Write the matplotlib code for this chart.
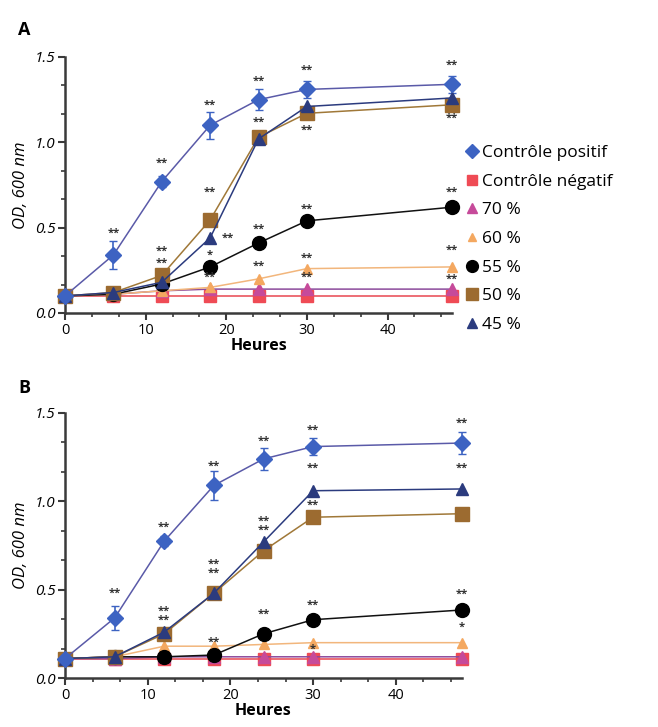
import matplotlib
matplotlib.use("Agg")
import matplotlib.pyplot as plt
from matplotlib.lines import Line2D
from matplotlib.ticker import MultipleLocator, AutoMinorLocator

plt.rcParams['font.family'] = ['Open Sans', 'DejaVu Sans']

heures = [0, 6, 12, 18, 24, 30, 48]

noms = ["Contrôle positif", "Contrôle négatif", "70 %", "60 %", "55 %", "50 %", "45 %"]
cles = ["pos", "neg", "p70", "p60", "p55", "p50", "p45"]

# panneau A
A_pos = [0.10, 0.34, 0.77, 1.10, 1.25, 1.31, 1.34]
A_pos_err = [0.02, 0.08, 0.03, 0.08, 0.06, 0.05, 0.05]
A_neg = [0.10, 0.10, 0.10, 0.10, 0.10, 0.10, 0.10]
A_p70 = [0.10, 0.11, 0.13, 0.14, 0.14, 0.14, 0.14]
A_p60 = [0.10, 0.11, 0.13, 0.15, 0.20, 0.26, 0.27]
A_p55 = [0.10, 0.11, 0.17, 0.27, 0.41, 0.54, 0.62]
A_p50 = [0.10, 0.12, 0.22, 0.545, 1.03, 1.17, 1.22]
A_p45 = [0.10, 0.12, 0.18, 0.44, 1.02, 1.21, 1.26]

# panneau B
B_pos = [0.11, 0.34, 0.775, 1.09, 1.24, 1.31, 1.33]
B_pos_err = [0.02, 0.07, 0.03, 0.08, 0.06, 0.05, 0.06]
B_neg = [0.11, 0.11, 0.11, 0.11, 0.11, 0.11, 0.11]
B_p70 = [0.11, 0.11, 0.12, 0.12, 0.12, 0.12, 0.12]
B_p60 = [0.11, 0.12, 0.18, 0.18, 0.19, 0.20, 0.20]
B_p55 = [0.11, 0.12, 0.12, 0.13, 0.25, 0.33, 0.385]
B_p50 = [0.11, 0.12, 0.25, 0.48, 0.72, 0.91, 0.93]
B_p45 = [0.11, 0.12, 0.26, 0.48, 0.77, 1.06, 1.07]

# étoiles : (série, indice du temps, texte, décalage en heures, décalage en OD)
etoiles_A = [
    ("pos", 1, "**", 0, 0.13), ("pos", 2, "**", 0, 0.11), ("pos", 3, "**", 0, 0.12),
    ("pos", 4, "**", 0, 0.11), ("pos", 5, "**", 0, 0.11), ("pos", 6, "**", 0, 0.11),
    ("p50", 2, "**", 0, 0.14), ("p45", 2, "**", 0, 0.11), ("p50", 3, "**", 0, 0.16),
    ("p45", 3, "**", 2.2, 0.0),
    ("p50", 4, "**", 0, 0.09), ("p50", 5, "**", 0, -0.10), ("p50", 6, "**", 0, -0.08),
    ("p55", 3, "*", 0, 0.07), ("p55", 4, "**", 0, 0.08), ("p55", 5, "**", 0, 0.07),
    ("p55", 6, "**", 0, 0.09), ("p60", 4, "**", 0, 0.075), ("p60", 5, "**", 0, 0.06),
    ("p60", 6, "**", 0, 0.10), ("p70", 3, "**", 0, 0.07), ("p70", 5, "**", 0, 0.07),
    ("p70", 6, "**", 0, 0.06),
]
etoiles_B = [
    ("pos", 1, "**", 0, 0.14), ("pos", 2, "**", 0, 0.08), ("pos", 3, "**", 0, 0.11),
    ("pos", 4, "**", 0, 0.10), ("pos", 5, "**", 0, 0.09), ("pos", 6, "**", 0, 0.11),
    ("p45", 2, "**\n**", 0, 0.09), ("p50", 3, "**\n**", 0, 0.14),
    ("p45", 4, "**\n**", 0, 0.09), ("p45", 5, "**", 0, 0.13), ("p45", 6, "**", 0, 0.12),
    ("p50", 5, "**", 0, 0.07), ("p55", 3, "**", 0, 0.07), ("p55", 4, "**", 0, 0.11),
    ("p55", 5, "**", 0, 0.08), ("p55", 6, "**", 0, 0.09), ("p60", 6, "*", 0, 0.09),
    ("p60", 5, "*", 0, -0.04),
]

styles = {
    "pos": dict(marker="D", color="#5a5aa8", mfc="#3d63c2", mec="#3d63c2", ms=8),
    "neg": dict(marker="s", color="#e8474f", mfc="#ef4b55", mec="#ef4b55", ms=9),
    "p70": dict(marker="^", color="#8c4a9c", mfc="#c64a9a", mec="#c64a9a", ms=8),
    "p60": dict(marker="^", color="#f2b67c", mfc="#f4a860", mec="#f4a860", ms=7),
    "p55": dict(marker="o", color="#111111", mfc="#000000", mec="#000000", ms=10),
    "p50": dict(marker="s", color="#a07838", mfc="#9c6b30", mec="#9c6b30", ms=10),
    "p45": dict(marker="^", color="#2b3b7e", mfc="#2b3b7e", mec="#2b3b7e", ms=9),
}

fig = plt.figure(figsize=(6.58, 7.27), dpi=100)
axA = fig.add_axes([65 / 658, 1 - 313 / 727, 387 / 658, 256 / 727])
axB = fig.add_axes([65 / 658, 1 - 678 / 727, 397 / 658, 265 / 727])

def panneau(ax, series, err_pos, etoiles):
    ordre = ["neg", "p70", "p60", "p55", "p50", "p45", "pos"]
    for k in ordre:
        st = styles[k]
        err = err_pos if k == "pos" else None
        conteneur = ax.errorbar(heures, series[k], yerr=err, marker=st["marker"],
                                color=st["color"], mfc=st["mfc"], mec=st["mec"],
                                ms=st["ms"], lw=1.1, ecolor=st["mfc"], elinewidth=1.2,
                                capsize=3, zorder=3)
        for art in conteneur.get_children():
            art.set_clip_on(False)
    for k, i, txt, dx, dy in etoiles:
        ax.text(heures[i] + dx, series[k][i] + dy, txt, ha="center", va="center",
                fontsize=8, color="#333333", fontweight="bold", zorder=4,
                linespacing=0.75)
    ax.set_xlim(0, 48)
    ax.set_ylim(0, 1.5)
    ax.xaxis.set_major_locator(MultipleLocator(10))
    ax.xaxis.set_minor_locator(AutoMinorLocator(3))
    ax.yaxis.set_major_locator(MultipleLocator(0.5))
    ax.yaxis.set_minor_locator(AutoMinorLocator(3))
    ax.set_yticks([0, 0.5, 1.0, 1.5])
    ax.set_yticklabels(["0.0", "0.5", "1.0", "1.5"], fontstyle="italic", fontsize=11)
    for s in ["top", "right"]:
        ax.spines[s].set_visible(False)
    for s in ["left", "bottom"]:
        ax.spines[s].set_linewidth(1.8)
        ax.spines[s].set_color("#3a3a3a")
    ax.tick_params(which="major", length=5, width=1.5, color="#3a3a3a", pad=2)
    ax.tick_params(which="minor", length=3, width=1.2, color="#3a3a3a")
    ax.set_ylabel("OD, 600 nm", fontstyle="italic", fontsize=12, labelpad=4)
    ax.set_xlabel("Heures", fontweight="bold", fontsize=11.5, labelpad=0)
    for lab in ax.get_xticklabels():
        lab.set_fontsize(10.5)

series_A = dict(pos=A_pos, neg=A_neg, p70=A_p70, p60=A_p60, p55=A_p55, p50=A_p50, p45=A_p45)
series_B = dict(pos=B_pos, neg=B_neg, p70=B_p70, p60=B_p60, p55=B_p55, p50=B_p50, p45=B_p45)
panneau(axA, series_A, A_pos_err, etoiles_A)
panneau(axB, series_B, B_pos_err, etoiles_B)

fig.text(18 / 658, 1 - 30 / 727, "A", fontweight="bold", fontsize=13, va="center")
fig.text(18 / 658, 1 - 388 / 727, "B", fontweight="bold", fontsize=13, va="center")

poignees = [Line2D([], [], ls="none", marker=styles[k]["marker"], mfc=styles[k]["mfc"],
                   mec=styles[k]["mec"], ms=styles[k]["ms"] * 0.85) for k in cles]
fig.legend(poignees, noms, loc="upper left", bbox_to_anchor=(466 / 658, 1 - 145 / 727),
           frameon=False, fontsize=12.5, handlelength=0.7, handletextpad=0.2,
           labelspacing=0.72, borderpad=0, borderaxespad=0)

fig.savefig("out.png", dpi=100)
